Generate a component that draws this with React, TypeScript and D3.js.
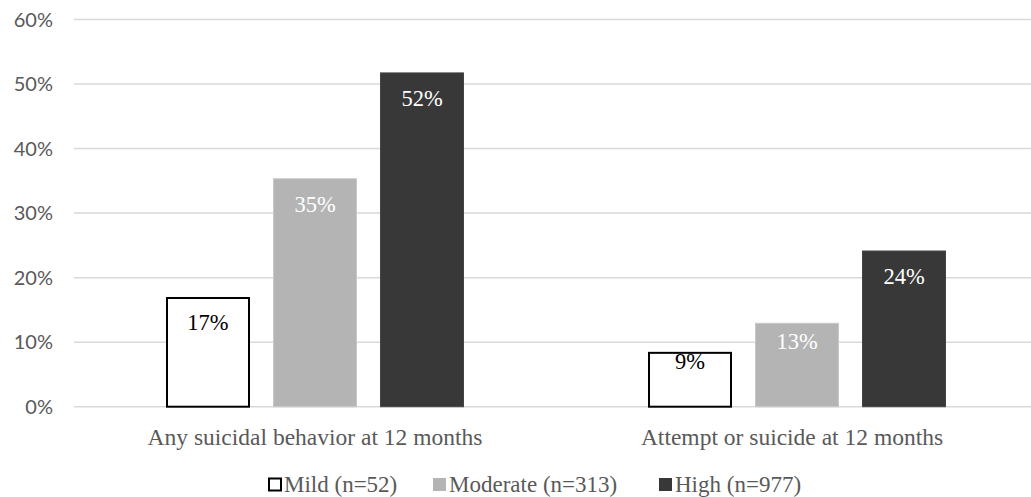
import * as d3 from 'd3'

const categories = ['Any suicidal behavior at 12 months', 'Attempt or suicide at 12 months']
const series = ['Mild (n=52)', 'Moderate (n=313)', 'High (n=977)']
const mildValues = [17, 8.5]
const moderateValues = [35.4, 13.0]
const highValues = [51.8, 24.2]
const valueLabels = [['17%', '9%'], ['35%', '13%'], ['52%', '24%']]
const yTicks = [0, 10, 20, 30, 40, 50, 60]

const W = 1031
const H = 497
const fills = ['#ffffff', '#b4b4b4', '#383838']
const strokes = ['#000000', '#c8c8c8', '#444444']
const labelColors = ['#000000', '#ffffff', '#ffffff']
const serif = '"Liberation Serif", "Times New Roman", serif'
const sans = 'Lato, "Liberation Sans", sans-serif'

export default function App() {
  const values = [mildValues, moderateValues, highValues]
  const x0 = d3.scaleBand<string>().domain(categories).range([74, 1038]).paddingInner(0).paddingOuter(0)
  const x1 = d3.scaleBand<string>().domain(series).range([92, x0.bandwidth() - 92]).paddingInner(0.215).paddingOuter(0)
  const y = d3.scaleLinear().domain([0, 60]).range([406.7, 19.5])
  const fmt = (d: number) => `${d}%`

  // legend layout (text start x)
  const legendX = [284, 449, 675]
  const legendY = 484
  const catShift = [0, -5]

  return (
    <svg width={W} height={H} style={{ position: 'absolute', left: 0, top: 0, background: '#fff' }}>
      {yTicks.map(t => (
        <g key={t}>
          <line x1={74} x2={W} y1={y(t)} y2={y(t)} stroke="#d9d9d9" strokeWidth={1.5} />
          <text x={53} y={y(t)} dy="0.35em" textAnchor="end" fontFamily={sans} fontSize={20} fill="#595959">
            {fmt(t)}
          </text>
        </g>
      ))}
      {categories.map((c, ci) => (
        <g key={c} transform={`translate(${x0(c)},0)`}>
          {series.map((s, si) => {
            const v = values[si][ci]
            const bx = x1(s)!
            const top = y(v)
            const h = y(0) - top
            const sw = si === 0 ? 2 : 1
            return (
              <g key={s}>
                <rect
                  x={bx + sw / 2}
                  y={top + sw / 2}
                  width={x1.bandwidth() - sw}
                  height={h - sw / 2}
                  fill={fills[si]}
                  stroke={strokes[si]}
                  strokeWidth={sw}
                />
                <text
                  x={bx + x1.bandwidth() / 2}
                  y={top + Math.min(33.5, h * 0.31)}
                  textAnchor="middle"
                  fontFamily={serif}
                  fontSize={22.5}
                  fill={labelColors[si]}
                >
                  {valueLabels[si][ci]}
                </text>
              </g>
            )
          })}
          <text
            x={x0.bandwidth() / 2 + catShift[ci]}
            y={445}
            textAnchor="middle"
            fontFamily={serif}
            fontSize={23.5}
            fill="#595959"
          >
            {c}
          </text>
        </g>
      ))}
      {series.map((s, si) => (
        <g key={s} transform={`translate(${legendX[si]},${legendY})`}>
          {si === 0 ? (
            <rect x={-15} y={-5.5} width={12} height={12} fill="#fff" stroke="#000" strokeWidth={2} />
          ) : (
            <rect x={-16} y={-6} width={13} height={13} fill={fills[si]} />
          )}
          <text x={0} y={8} fontFamily={serif} fontSize={23} fill="#595959">
            {s}
          </text>
        </g>
      ))}
    </svg>
  )
}
